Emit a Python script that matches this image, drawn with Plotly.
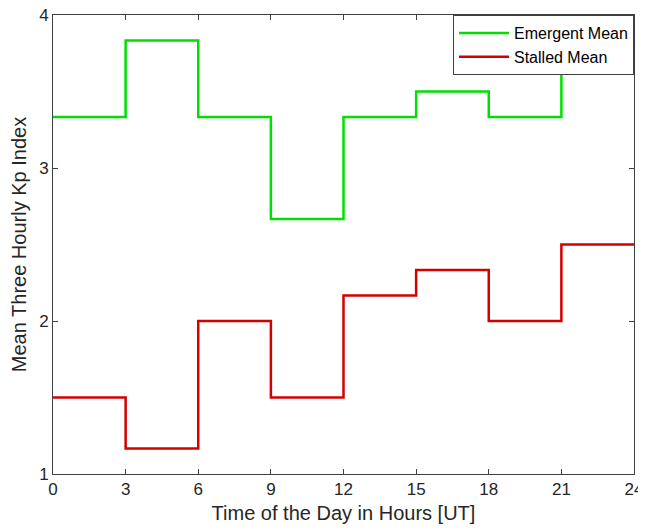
import plotly.graph_objects as go

hours = [0, 3, 6, 9, 12, 15, 18, 21, 24]
emergent_mean = [3.333, 3.833, 3.333, 2.667, 3.333, 3.5, 3.333, 3.667]
stalled_mean = [1.5, 1.167, 2.0, 1.5, 2.167, 2.333, 2.0, 2.5]
x_ticks = [0, 3, 6, 9, 12, 15, 18, 21, 24]
y_ticks = [1, 2, 3, 4]

fig = go.Figure()
fig.add_trace(go.Scatter(x=hours, y=emergent_mean + [emergent_mean[-1]], mode="lines",
                         line=dict(shape="hv", color="#00e000", width=2.5), name="Emergent Mean"))
fig.add_trace(go.Scatter(x=hours, y=stalled_mean + [stalled_mean[-1]], mode="lines",
                         line=dict(shape="hv", color="#d40000", width=2.5), name="Stalled Mean"))

axis_common = dict(showgrid=False, zeroline=False, showline=True, linecolor="#404040", linewidth=1,
                   mirror="ticks", ticks="inside", ticklen=5, tickcolor="#404040", automargin=False,
                   ticklabeloverflow="allow", tickfont=dict(size=17, color="#262626"))
fig.update_layout(
    width=646, height=516,
    margin=dict(l=45, r=20, t=7, b=50),
    paper_bgcolor="white", plot_bgcolor="white",
    font=dict(family="Liberation Sans, Arial, sans-serif", color="#262626"),
    xaxis=dict(range=[0, 24], tickvals=x_ticks,
               title=dict(text="Time of the Day in Hours [UT]", font=dict(size=20)), **axis_common),
    yaxis=dict(range=[1, 4], tickvals=y_ticks,
               title=dict(text="Mean Three Hourly Kp Index", font=dict(size=20), standoff=8), **axis_common),
    legend=dict(x=1, y=1, xanchor="right", yanchor="top", bgcolor="white",
                bordercolor="#404040", borderwidth=1, font=dict(size=16, color="#000000"),
                tracegroupgap=0, itemwidth=50),
    showlegend=True,
)
fig.write_html("out.html")
